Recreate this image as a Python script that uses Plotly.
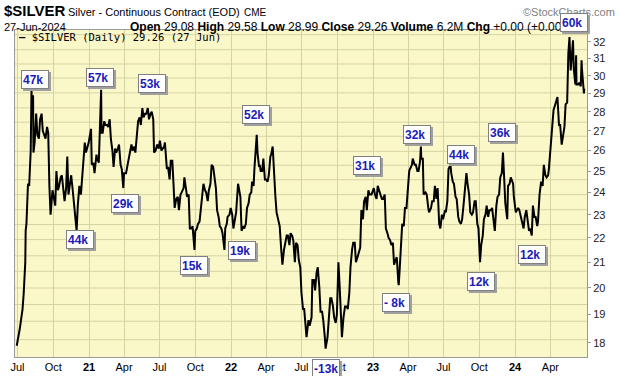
import math
import plotly.graph_objects as go

# ---------------- data ----------------
d2020 = ["06-29","07-02","07-07","07-10","07-14","07-17","07-21","07-22","07-24","07-28","07-31",
         "08-04","08-06","08-07","08-10","08-11","08-14","08-18","08-21","08-25","08-28",
         "09-01","09-04","09-08","09-11","09-15","09-18","09-21","09-24","09-25","09-29",
         "10-02","10-06","10-09","10-13","10-16","10-20","10-23","10-27","10-30",
         "11-03","11-06","11-09","11-12","11-16","11-20","11-24","11-27","11-30",
         "12-03","12-07","12-11","12-16","12-18","12-21","12-24","12-31"]
c2020 = [17.9,18.1,18.5,18.8,19.2,19.8,21.0,22.3,22.6,24.4,24.3,
         26.0,29.2,28.3,28.9,25.9,26.4,27.9,26.8,26.6,27.6,
         27.9,27.0,26.8,26.6,27.2,26.9,24.3,23.0,23.2,24.1,
         23.8,23.4,25.0,24.1,24.3,24.7,24.8,24.0,23.6,
         24.2,25.7,23.9,24.4,24.8,24.1,23.3,22.6,22.3,
         23.4,24.3,23.9,25.0,25.8,26.4,25.9,26.4]

d2021 = ["01-06","01-08","01-12","01-15","01-20","01-22","01-26","01-28",
         "02-01","02-02","02-05","02-09","02-12","02-16","02-19","02-23","02-26",
         "03-02","03-05","03-09","03-12","03-16","03-19","03-23","03-26","03-30",
         "04-01","04-06","04-09","04-13","04-16","04-20","04-23","04-27","04-30",
         "05-04","05-07","05-11","05-14","05-18","05-21","05-25","05-28",
         "06-01","06-04","06-08","06-11","06-15","06-17","06-21","06-25","06-29",
         "07-02","07-06","07-09","07-13","07-15","07-20","07-23","07-27","07-30",
         "08-03","08-06","08-09","08-13","08-17","08-20","08-24","08-27",
         "09-01","09-03","09-07","09-10","09-14","09-17","09-21","09-24","09-29",
         "10-01","10-05","10-08","10-12","10-15","10-19","10-22","10-26","10-29",
         "11-02","11-05","11-09","11-12","11-16","11-19","11-23","11-26","11-30",
         "12-03","12-07","12-10","12-15","12-17","12-21","12-23","12-28","12-31"]
c2021 = [27.1,25.3,25.4,24.9,25.8,25.6,25.4,26.6,
         29.2,26.9,26.9,27.5,27.3,27.3,27.2,27.6,26.6,
         26.0,25.2,26.1,25.9,26.1,26.3,25.3,25.1,24.2,
         24.9,24.9,25.3,25.6,25.9,26.3,26.0,26.2,25.9,
         26.8,27.5,27.7,27.3,28.2,27.7,27.9,27.9,
         28.2,27.6,27.9,28.0,27.6,25.9,26.0,26.3,26.1,
         26.5,26.0,26.1,26.2,26.4,25.1,25.2,24.6,25.5,
         25.5,24.4,23.3,23.7,23.8,23.2,23.9,24.0,
         24.2,24.7,24.2,23.8,23.9,22.4,22.4,22.5,21.5,
         22.3,22.4,22.6,22.7,23.3,24.1,24.4,24.1,24.0,
         23.6,24.1,24.4,25.3,25.2,24.7,24.2,23.2,22.9,
         22.5,22.4,22.2,21.5,22.4,22.6,22.9,23.0,23.3]

d2022 = ["01-04","01-07","01-11","01-14","01-19","01-21","01-25","01-28",
         "02-01","02-04","02-08","02-11","02-15","02-18","02-22","02-24","02-28",
         "03-02","03-04","03-08","03-10","03-14","03-16","03-18","03-22","03-25","03-29",
         "04-01","04-05","04-08","04-12","04-14","04-18","04-21","04-25","04-28",
         "05-03","05-06","05-10","05-13","05-17","05-20","05-24","05-27","05-31",
         "06-03","06-07","06-10","06-14","06-17","06-21","06-24","06-28",
         "07-01","07-05","07-08","07-12","07-14","07-19","07-22","07-27","07-29",
         "08-02","08-05","08-09","08-12","08-16","08-19","08-23","08-26","08-30",
         "09-01","09-06","09-09","09-13","09-16","09-20","09-23","09-27","09-30",
         "10-04","10-07","10-11","10-13","10-17","10-21","10-25","10-28",
         "11-01","11-04","11-08","11-11","11-15","11-18","11-22","11-25","11-29",
         "12-02","12-06","12-09","12-13","12-16","12-20","12-23","12-28","12-30"]
c2022 = [23.0,22.4,22.8,23.1,24.4,24.2,23.8,22.3,
         22.5,22.4,22.6,23.3,23.5,23.9,24.0,24.5,24.3,
         25.1,25.8,26.8,25.9,25.2,25.3,25.0,25.0,25.6,24.6,
         24.6,24.5,24.8,25.7,25.8,26.2,24.9,23.8,23.1,
         22.7,22.5,21.5,20.9,21.5,21.7,22.1,22.1,21.7,
         22.2,22.1,21.9,21.0,21.8,21.7,21.1,20.8,
         19.8,19.2,19.2,18.5,18.2,18.8,18.6,18.9,20.3,
         20.3,19.9,20.6,20.8,20.0,19.1,19.1,18.8,18.2,
         17.8,18.2,18.8,19.6,19.6,19.3,18.9,18.7,19.0,
         21.0,20.1,19.0,18.2,18.9,19.3,19.3,19.2,
         19.8,20.8,21.5,21.8,21.8,21.0,21.2,21.4,21.6,
         23.2,22.8,23.6,23.8,23.2,24.1,23.9,23.9,24.0]

d2023 = ["01-03","01-06","01-10","01-13","01-17","01-20","01-24","01-27","01-31",
         "02-02","02-03","02-07","02-10","02-14","02-17","02-21","02-24","02-28",
         "03-03","03-07","03-08","03-10","03-14","03-17","03-21","03-24","03-28","03-31",
         "04-04","04-06","04-11","04-13","04-18","04-21","04-25","04-28",
         "05-02","05-04","05-05","05-09","05-11","05-16","05-19","05-23","05-25","05-30",
         "06-02","06-06","06-09","06-13","06-16","06-20","06-23","06-27","06-30",
         "07-05","07-07","07-11","07-14","07-19","07-21","07-25","07-28",
         "08-01","08-04","08-08","08-11","08-15","08-18","08-22","08-25","08-29",
         "09-01","09-05","09-08","09-12","09-15","09-19","09-22","09-26","09-29",
         "10-03","10-06","10-10","10-13","10-17","10-20","10-24","10-27","10-31",
         "11-03","11-07","11-10","11-14","11-17","11-21","11-24","11-28",
         "12-01","12-04","12-07","12-12","12-14","12-18","12-21","12-27","12-29"]
c2023 = [24.2,23.9,23.7,24.3,24.0,23.9,23.7,23.7,23.9,
         23.2,22.4,22.2,22.0,21.9,21.7,21.8,20.9,21.1,
         21.2,20.2,20.1,20.6,21.9,22.6,22.5,23.3,23.3,24.1,
         25.0,25.1,25.3,25.6,25.3,25.3,25.0,25.0,
         25.5,26.2,25.6,25.6,23.9,24.0,23.9,23.3,23.1,23.3,
         23.6,23.6,24.3,23.7,24.2,22.6,22.4,23.0,22.8,
         23.2,23.1,23.6,25.1,25.3,24.9,24.5,24.4,
         23.8,23.7,22.9,22.7,22.6,22.8,23.5,24.2,24.9,
         24.4,23.9,23.1,23.0,23.1,23.6,23.6,22.6,22.4,
         21.0,21.7,22.1,22.8,23.0,23.4,22.9,23.2,23.2,
         23.3,22.6,22.3,23.4,23.8,23.9,24.7,24.9,
         25.9,24.7,23.5,22.8,24.3,24.4,24.7,24.4,23.8]

d2024 = ["01-03","01-05","01-09","01-12","01-17","01-19","01-23","01-26","01-30",
         "02-02","02-06","02-09","02-13","02-16","02-20","02-23","02-27","02-29",
         "03-04","03-08","03-12","03-15","03-19","03-22","03-26","03-28",
         "04-02","04-05","04-09","04-12","04-16","04-19","04-23","04-26","04-30",
         "05-02","05-07","05-10","05-14","05-17","05-20","05-23","05-29","05-31",
         "06-04","06-06","06-07","06-11","06-14","06-18","06-20","06-21","06-25","06-26","06-27"]
c2024 = [23.1,23.2,23.3,23.2,22.8,22.6,22.4,22.9,23.2,
         22.8,22.3,22.4,22.1,23.4,22.9,22.9,22.5,22.7,
         23.9,24.5,24.3,25.3,24.8,24.7,24.8,25.1,
         26.5,27.4,28.1,28.3,28.6,28.8,27.3,27.3,26.3,
         26.5,27.2,28.4,28.5,31.3,32.3,30.3,32.1,30.4,
         29.5,31.2,29.5,29.5,29.6,29.4,30.9,30.4,29.3,29.0,29.26]

# volume call-outs (text, date of the bar they point at, price there)
vol_text   = ["47k","57k","53k","29k","44k","15k","52k","19k","-13k","31k",
              "- 8k","32k","44k","12k","36k","12k","60k"]
vol_dates  = ["2020-08-06","2021-02-01","2021-05-18","2021-03-30","2020-11-30",
              "2021-09-29","2022-03-08","2021-12-15","2022-09-01","2023-01-13",
              "2023-03-08","2023-05-04","2023-07-19","2023-10-03","2023-12-01",
              "2024-02-13","2024-05-20"]
vol_prices = [29.2,29.2,28.2,24.2,22.3,21.5,26.8,21.5,17.8,24.3,
              20.1,26.2,25.3,21.0,25.9,22.1,32.3]

# axis ticks
quarter_ticks = ["2020-07-01","2020-10-01","2021-01-01","2021-04-01","2021-07-01","2021-10-01",
                 "2022-01-01","2022-04-01","2022-07-01","2022-10-01","2023-01-01","2023-04-01",
                 "2023-07-01","2023-10-01","2024-01-01","2024-04-01"]
quarter_labels = ["Jul","Oct","<b>21</b>","Apr","Jul","Oct","<b>22</b>","Apr","Jul","Oct",
                  "<b>23</b>","Apr","Jul","Oct","<b>24</b>","Apr"]
price_ticks = [18,19,20,21,22,23,24,25,26,27,28,29,30,31,32]

# ---------------- styling / layout ----------------
W, H = 620, 376
L, R, T, B = 15, 33, 30, 19
PW, PH = W - L - R, H - T - B

# pixel offsets of each call-out box's top-left corner from its bar (style)
box_offsets = [(-10.5, 20), (-15, 22), (-4.4, 34), (-12.3, -5.8), (-10.6, 0.9),
               (-14.5, -6), (-14.7, 29.7), (3.5, 9), (-13.6, -10.2), (-24.7, 29.7),
               (-16.7, -7.8), (-17.9, 21.6), (-3.5, 19.9), (-13, -9.8), (-15, 29.6),
               (-13.8, -9.4), (-9.5, 24.1)]

grid_levels = [32.45, 31.53, 30.68, 29.87, 29.03, 28.21, 27.45, 26.72, 25.96, 25.28, 24.59,
               23.90, 23.22, 22.57, 21.93, 21.26, 20.64, 19.99, 19.37, 18.76, 18.11]

dates = ([f"2020-{d}" for d in d2020] + [f"2021-{d}" for d in d2021] +
         [f"2022-{d}" for d in d2022] + [f"2023-{d}" for d in d2023] +
         [f"2024-{d}" for d in d2024])
closes = c2020 + c2021 + c2022 + c2023 + c2024

fig = go.Figure()
fig.add_trace(go.Scatter(x=dates, y=closes, mode="lines",
                         line=dict(color="black", width=2), hoverinfo="skip"))

GRID = "#d6d3a3"
shapes = []
for g in grid_levels:
    shapes.append(dict(type="line", xref="paper", x0=0, x1=1, yref="y", y0=g, y1=g,
                       line=dict(color=GRID, width=1), layer="below"))

def px(xp):
    return (xp - L) / PW

def py(yp):
    return (T + PH - yp) / PH

ann = []
# header
ann.append(dict(text="<b>$SILVER</b>", x=px(2), y=py(11), font=dict(size=15, family="Arial", color="black")))
ann.append(dict(text="Silver - Continuous Contract (EOD)", x=px(66), y=py(12),
                font=dict(size=11, family="Arial", color="black")))
ann.append(dict(text="CME", x=px(242), y=py(12.5), font=dict(size=10, family="Arial", color="black")))
ann.append(dict(text="\u00a9StockCharts.com", x=px(521), y=py(12), font=dict(size=11, family="Arial", color="#808080")))
ann.append(dict(text="27-Jun-2024", x=px(2), y=py(27), font=dict(size=11, family="Arial", color="black")))
ann.append(dict(text="<b>Open</b> 29.08 <b>High</b> 29.58 <b>Low</b> 28.99 <b>Close</b> 29.26 "
                     "<b>Volume</b> 6.2M <b>Chg</b> +0.00 (+0.00%)",
                x=px(128), y=py(27), font=dict(size=12, family="Arial", color="black")))
ann.append(dict(text="<b>\u2014</b> $SILVER (Daily) 29.26 (27 Jun)", x=px(17), y=py(37.5),
                font=dict(size=10.5, family="DejaVu Sans Mono", color="black")))
for a in ann:
    a.update(xref="paper", yref="paper", xanchor="left", yanchor="middle", showarrow=False)

for txt, dte, prc, (dx, dy) in zip(vol_text, vol_dates, vol_prices, box_offsets):
    common = dict(x=dte, y=math.log10(prc), xref="x", yref="y", xanchor="left", yanchor="top",
                  showarrow=False, width=24, height=15, borderpad=1, borderwidth=1,
                  align="left", valign="middle")
    ann.append(dict(common, text="<b>" + txt + "</b>", xshift=dx + 2, yshift=dy - 2,
                    bgcolor="#a0a0a0", bordercolor="#a0a0a0",
                    font=dict(size=12, family="Arial", color="#a0a0a0")))
    ann.append(dict(common, text="<b>" + txt + "</b>", xshift=dx, yshift=dy,
                    bgcolor="white", bordercolor="#808080",
                    font=dict(size=12, family="Arial", color="#1c1cb8")))

fig.update_layout(
    width=W, height=H, margin=dict(l=L, r=R, t=T, b=B, pad=0, autoexpand=False),
    paper_bgcolor="white", plot_bgcolor="#faf7c9", showlegend=False,
    shapes=shapes, annotations=ann,
    xaxis=dict(type="date", range=["2020-06-24 14:00", "2024-07-04"], automargin=False,
               tickvals=quarter_ticks, ticktext=quarter_labels,
               tickfont=dict(size=11, family="Arial", color="black"),
               showgrid=True, gridcolor=GRID, gridwidth=1, ticks="", ticklen=0,
               showline=True, mirror=True, linecolor="#9a9a9a", linewidth=1, zeroline=False),
    yaxis=dict(type="log", range=[math.log10(17.52), math.log10(32.74)], side="right",
               automargin=False,
               tickvals=price_ticks, ticktext=[str(v) for v in price_ticks],
               tickfont=dict(size=11, family="Arial", color="#222222"),
               showgrid=False, ticks="outside", ticklen=3, tickcolor="#9a9a9a",
               showline=True, mirror=True, linecolor="#9a9a9a", linewidth=1, zeroline=False),
)

fig.write_html("out.html", config={"displayModeBar": False},
               post_script="document.body.style.margin='0px';document.body.style.overflow='hidden';")
